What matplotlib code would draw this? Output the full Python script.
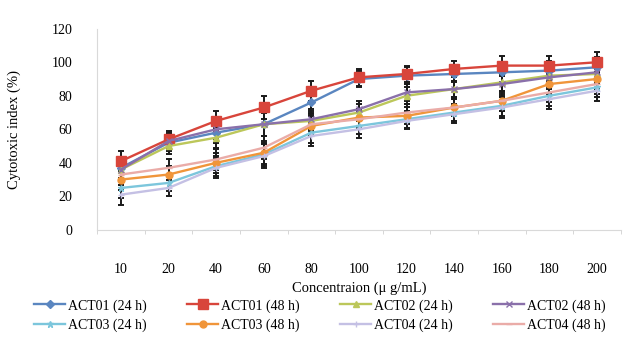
import numpy as np
import matplotlib
matplotlib.use("Agg")
import matplotlib.pyplot as plt

plt.rcParams['font.family'] = ['Liberation Serif', 'DejaVu Serif']

conc = ["10", "20", "40", "60", "80", "100", "120", "140", "160", "180", "200"]

act01_24 = [37, 52, 58, 63, 76, 90, 92, 93, 94, 95, 97]
act01_48 = [41, 54, 65, 73, 83, 91, 93, 96, 98, 98, 100]
act02_24 = [36, 50, 55, 63, 65, 70, 80, 84, 88, 92, 93]
act02_48 = [36, 53, 60, 63, 66, 72, 82, 84, 87, 91, 94]
act03_24 = [25, 28, 38, 45, 58, 62, 66, 70, 74, 80, 85]
act03_48 = [30, 33, 40, 46, 62, 67, 68, 73, 77, 87, 90]
act04_24 = [21, 25, 37, 44, 56, 60, 65, 69, 73, 78, 83]
act04_48 = [33, 37, 42, 49, 63, 66, 70, 73, 77, 82, 87]

err = [6, 5, 6, 7, 6, 5, 5, 5, 6, 6, 6]

labels = ["ACT01 (24 h)", "ACT01 (48 h)", "ACT02 (24 h)", "ACT02 (48 h)",
          "ACT03 (24 h)", "ACT03 (48 h)", "ACT04 (24 h)", "ACT04 (48 h)"]
series = [act01_24, act01_48, act02_24, act02_48, act03_24, act03_48, act04_24, act04_48]
colors = ["#5a86c0", "#d8453b", "#bcc75a", "#8a70aa", "#7cc6dc", "#f0953a", "#c4c0e4", "#eaaca8"]
markers = ["D", "s", "^", "x", "*", "o", "+", "_"]
msizes = [4, 7, 5, 5, 5, 5, 5, 5]

fig = plt.figure(figsize=(6.27, 3.38), dpi=100)
ax = fig.add_axes([0.155, 0.32, 0.835, 0.595])

x = np.arange(len(conc))
handles = []
for s, lab, c, m, ms in zip(series, labels, colors, markers, msizes):
    ax.errorbar(x, s, yerr=err, fmt='none', ecolor='#1a1a1a', elinewidth=1.4,
                capsize=2.5, capthick=1.4, zorder=2)
    h, = ax.plot(x, s, color=c, lw=1.7, marker=m, ms=ms, mfc=c, mec=c,
                 label=lab, zorder=3)
    handles.append(h)

ax.set_xlim(-0.5, len(conc) - 0.5)
ax.set_ylim(0, 120)
ax.set_yticks(range(0, 121, 20))
ax.set_xticks(x)
ax.set_xticklabels(conc)
ax.set_xticks(np.arange(-0.5, len(conc), 1), minor=True)
ax.tick_params(axis='x', which='major', length=0, pad=24, labelsize=10)
ax.tick_params(axis='x', which='minor', length=3, color='#d0d0d0')
ax.tick_params(axis='y', length=0, pad=18, labelsize=10)

for sp in ['top', 'right']:
    ax.spines[sp].set_visible(False)
for sp in ['left', 'bottom']:
    ax.spines[sp].set_color('#d9d9d9')

ax.set_xlabel("Concentraion (\u03bc g/mL)", fontsize=10.5, labelpad=4)
ax.set_ylabel("Cytotoxic index (%)", fontsize=10.5, labelpad=22)

order = [0, 4, 1, 5, 2, 6, 3, 7]
fig.legend([handles[i] for i in order], [labels[i] for i in order],
           loc='lower center', bbox_to_anchor=(0.51, -0.02), ncol=4,
           frameon=False, fontsize=10, handlelength=2.2, handletextpad=0.2,
           columnspacing=2.95, labelspacing=0.45)

fig.savefig("out.png", dpi=100)
